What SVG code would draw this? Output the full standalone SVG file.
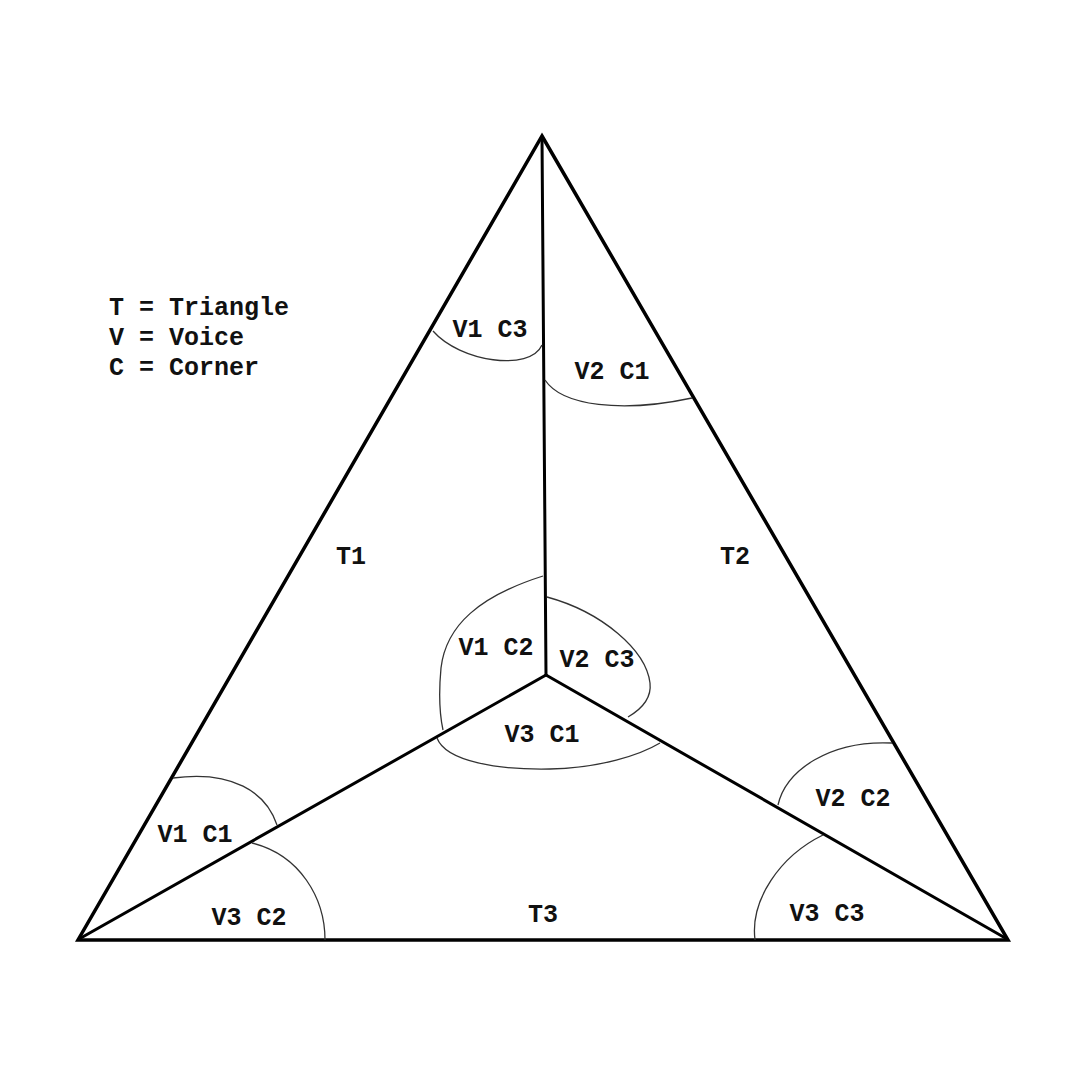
<svg xmlns="http://www.w3.org/2000/svg" width="1080" height="1080" viewBox="0 0 1080 1080">
<style>
.edge{fill:none;stroke:#000;stroke-width:3.5;stroke-linecap:round;stroke-linejoin:miter}
.inner{fill:none;stroke:#000;stroke-width:3;stroke-linecap:round}
.arc{fill:none;stroke:#333;stroke-width:1.3}
text{font-family:"Liberation Mono","Courier New",monospace;font-weight:bold;font-size:25px;fill:#111}
.lbl{text-anchor:middle}
</style>
<rect width="1080" height="1080" fill="#fff"/>
<g id="legend">
<text x="109" y="315">T = Triangle</text>
<text x="109" y="345">V = Voice</text>
<text x="109" y="375">C = Corner</text>
</g>
<g id="connectors">
<polygon class="edge" points="542,136 1008,940 78,940"/>
<line class="inner" x1="542" y1="137" x2="546" y2="675"/>
<line class="inner" x1="546" y1="675" x2="79" y2="939"/>
<line class="inner" x1="546" y1="675" x2="1007" y2="939"/>
</g>
<g id="arcs">
<path class="arc" d="M433,331 C460,362 530,372 542,345"/>
<path class="arc" d="M545,380 C562,406 622,413 692,398"/>
<path class="arc" d="M173,778 C232,770 266,792 277,825"/>
<path class="arc" d="M252,843 C300,855 325,898 325,940"/>
<path class="arc" d="M892,743 C830,740 786,770 778,805"/>
<path class="arc" d="M823,835 C780,856 750,900 755,940"/>
<path class="arc" d="M543,576 C480,596 446,625 441,668 C438,700 440,716 443,730"/>
<path class="arc" d="M437,738 C446,762 500,770 550,769 C600,768 640,755 660,743"/>
<path class="arc" d="M547,597 C602,612 646,650 650,683 C652,700 640,710 628,717"/>
</g>
<g id="T1"><text class="lbl" x="351" y="564">T1</text></g>
<g id="T2"><text class="lbl" x="735" y="564">T2</text></g>
<g id="T3"><text class="lbl" x="543" y="922">T3</text></g>
<g id="V1C3"><text class="lbl" x="490" y="337">V1 C3</text></g>
<g id="V2C1"><text class="lbl" x="612" y="379">V2 C1</text></g>
<g id="V1C2"><text class="lbl" x="496" y="655">V1 C2</text></g>
<g id="V2C3"><text class="lbl" x="597" y="667">V2 C3</text></g>
<g id="V3C1"><text class="lbl" x="542" y="742">V3 C1</text></g>
<g id="V2C2"><text class="lbl" x="853" y="806">V2 C2</text></g>
<g id="V1C1"><text class="lbl" x="195" y="842">V1 C1</text></g>
<g id="V3C2"><text class="lbl" x="249" y="925">V3 C2</text></g>
<g id="V3C3"><text class="lbl" x="827" y="921">V3 C3</text></g>
</svg>
